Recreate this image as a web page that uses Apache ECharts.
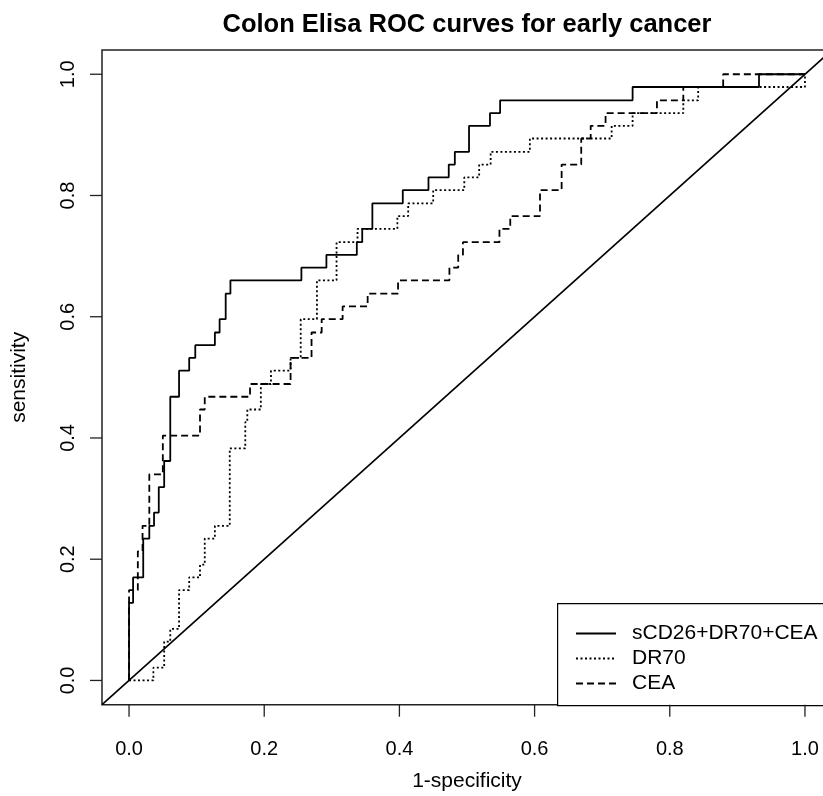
<!DOCTYPE html>
<html>
<head>
<meta charset="utf-8">
<title>Colon Elisa ROC curves for early cancer</title>
<script src="https://cdn.jsdelivr.net/npm/echarts@6/dist/echarts.min.js"></script>
<style>
  html, body { margin: 0; padding: 0; background: #fff; }
  #chart { width: 823px; height: 796px; }
</style>
</head>
<body>
<div id="chart"></div>
<script>
// ROC points (1-specificity, sensitivity)
var comboFpr = [0, 0, 0.006, 0.021, 0.030, 0.037, 0.044, 0.052, 0.061, 0.074, 0.089, 0.098, 0.127, 0.134, 0.143, 0.150,
  0.255, 0.292, 0.337, 0.345, 0.360, 0.405, 0.443, 0.473, 0.482, 0.503, 0.534, 0.549, 0.745, 0.932, 1.0];
var comboTpr = [0, 0.128, 0.170, 0.234, 0.255, 0.277, 0.319, 0.362, 0.468, 0.511, 0.532, 0.553, 0.574, 0.596, 0.638, 0.660,
  0.681, 0.702, 0.723, 0.745, 0.787, 0.809, 0.830, 0.851, 0.872, 0.915, 0.936, 0.957, 0.979, 1.0, 1.0];

var dr70Fpr = [0, 0.036, 0.052, 0.061, 0.074, 0.089, 0.105, 0.112, 0.127, 0.149, 0.172, 0.175, 0.195, 0.210, 0.239, 0.254,
  0.278, 0.307, 0.338, 0.397, 0.413, 0.450, 0.496, 0.518, 0.535, 0.593, 0.714, 0.745, 0.820, 0.842, 1.0];
var dr70Tpr = [0, 0.021, 0.064, 0.085, 0.149, 0.170, 0.191, 0.234, 0.255, 0.383, 0.426, 0.447, 0.489, 0.511, 0.532, 0.596,
  0.660, 0.723, 0.745, 0.766, 0.787, 0.809, 0.830, 0.851, 0.872, 0.894, 0.915, 0.936, 0.957, 0.979, 1.0];

var ceaFpr = [0, 0, 0.013, 0.020, 0.030, 0.050, 0.105, 0.112, 0.179, 0.239, 0.270, 0.285, 0.316, 0.353, 0.398, 0.474,
  0.487, 0.494, 0.548, 0.564, 0.608, 0.640, 0.669, 0.683, 0.705, 0.781, 0.820, 0.879, 1.0];
var ceaTpr = [0, 0.149, 0.213, 0.255, 0.340, 0.404, 0.447, 0.468, 0.489, 0.532, 0.574, 0.596, 0.617, 0.638, 0.660, 0.681,
  0.702, 0.723, 0.745, 0.766, 0.809, 0.851, 0.894, 0.915, 0.936, 0.957, 0.979, 1.0, 1.0];

var diagX = [-0.04, 1.04];
var diagY = [-0.04, 1.04];

var tickValues = [0, 0.2, 0.4, 0.6, 0.8, 1.0];
var seriesNames = ['sCD26+DR70+CEA', 'DR70', 'CEA'];

// R pads the 0..1 range by 4% on each side
var axisMin = -0.04, axisMax = 1.04;
var tickLen = 12;

function pairs(xs, ys) {
  var out = [];
  for (var i = 0; i < xs.length; i++) {
    out.push([xs[i], ys[i]]);
  }
  return out;
}

var font = 'Liberation Sans, Arial, Helvetica, sans-serif';

// legend frame, runs off the right edge like the original
var legendFrame = {
  id: 'legendFrame',
  type: 'rect',
  left: 557,
  top: 603,
  shape: { width: 300, height: 102 },
  style: { fill: '#fff', stroke: '#000', lineWidth: 1.2 },
  z: 5
};

var option = {
  animation: false,
  backgroundColor: '#fff',
  title: {
    text: 'Colon Elisa ROC curves for early cancer',
    left: 462,
    textAlign: 'center',
    top: 7,
    textStyle: { fontFamily: font, fontSize: 25.5, fontWeight: 'bold', color: '#000' }
  },
  graphic: [legendFrame],
  legend: {
    data: seriesNames,
    orient: 'vertical',
    left: 557,
    top: 603,
    padding: [20, 0, 15, 18],
    itemWidth: 40,
    itemHeight: 14,
    itemGap: 4,
    z: 10,
    itemStyle: { color: 'transparent', borderWidth: 0 },
    textStyle: { fontFamily: font, fontSize: 21, color: '#000', padding: [0, 0, 0, 11] }
  },
  grid: {
    left: 102,
    top: 50,
    width: 730,
    height: 654.7,
    outerBoundsMode: 'none',
    show: true,
    borderColor: '#222',
    borderWidth: 1.5,
    backgroundColor: 'transparent'
  },
  xAxis: {
    type: 'value',
    min: axisMin,
    max: axisMax,
    name: '1-specificity',
    nameLocation: 'middle',
    nameGap: 66,
    nameTextStyle: { fontFamily: font, fontSize: 21, color: '#000' },
    axisLine: { show: false, onZero: false },
    axisTick: { show: false },
    splitLine: { show: false },
    axisLabel: {
      customValues: tickValues,
      margin: 35,
      fontFamily: font, fontSize: 20, color: '#000',
      formatter: function (v) { return v.toFixed(1); }
    }
  },
  yAxis: {
    type: 'value',
    min: axisMin,
    max: axisMax,
    name: 'sensitivity',
    nameLocation: 'middle',
    nameGap: 72,
    nameTextStyle: { fontFamily: font, fontSize: 21, color: '#000' },
    axisLine: { show: false, onZero: false },
    axisTick: { show: false },
    splitLine: { show: false },
    axisLabel: {
      customValues: tickValues,
      rotate: 90,
      margin: 24,
      fontFamily: font, fontSize: 20, color: '#000',
      formatter: function (v) { return v.toFixed(1); }
    }
  },
  series: [{
    name: 'diagonal',
    type: 'line',
    data: pairs(diagX, diagY),
    symbol: 'none',
    silent: true,
    lineStyle: { color: '#000', width: 1.6, type: 'solid' }
  }, {
    name: seriesNames[0],
    type: 'line',
    step: 'end',
    data: pairs(comboFpr, comboTpr),
    symbol: 'none',
    lineStyle: { color: '#000', width: 1.8, type: 'solid' },
    itemStyle: { color: '#000' }
  }, {
    name: seriesNames[1],
    type: 'line',
    step: 'end',
    data: pairs(dr70Fpr, dr70Tpr),
    symbol: 'none',
    lineStyle: { color: '#000', width: 1.8, type: [2, 2.5] },
    itemStyle: { color: '#000' }
  }, {
    name: seriesNames[2],
    type: 'line',
    step: 'end',
    data: pairs(ceaFpr, ceaTpr),
    symbol: 'none',
    lineStyle: { color: '#000', width: 1.8, type: [7, 4] },
    itemStyle: { color: '#000' }
  }]
};

var chart = echarts.init(document.getElementById('chart'));
chart.setOption(option);

// tick marks outside the box, placed through the chart's own scales
var ticks = [];
tickValues.forEach(function (v) {
  var px = chart.convertToPixel({ gridIndex: 0 }, [v, axisMin]);
  ticks.push({
    type: 'line',
    shape: { x1: px[0], y1: px[1], x2: px[0], y2: px[1] + tickLen },
    style: { stroke: '#222', lineWidth: 1.3 },
    silent: true,
    z: 20
  });
  var py = chart.convertToPixel({ gridIndex: 0 }, [axisMin, v]);
  ticks.push({
    type: 'line',
    shape: { x1: py[0], y1: py[1], x2: py[0] - tickLen, y2: py[1] },
    style: { stroke: '#222', lineWidth: 1.3 },
    silent: true,
    z: 20
  });
});
chart.setOption({ graphic: [legendFrame].concat(ticks) });
</script>
</body>
</html>
